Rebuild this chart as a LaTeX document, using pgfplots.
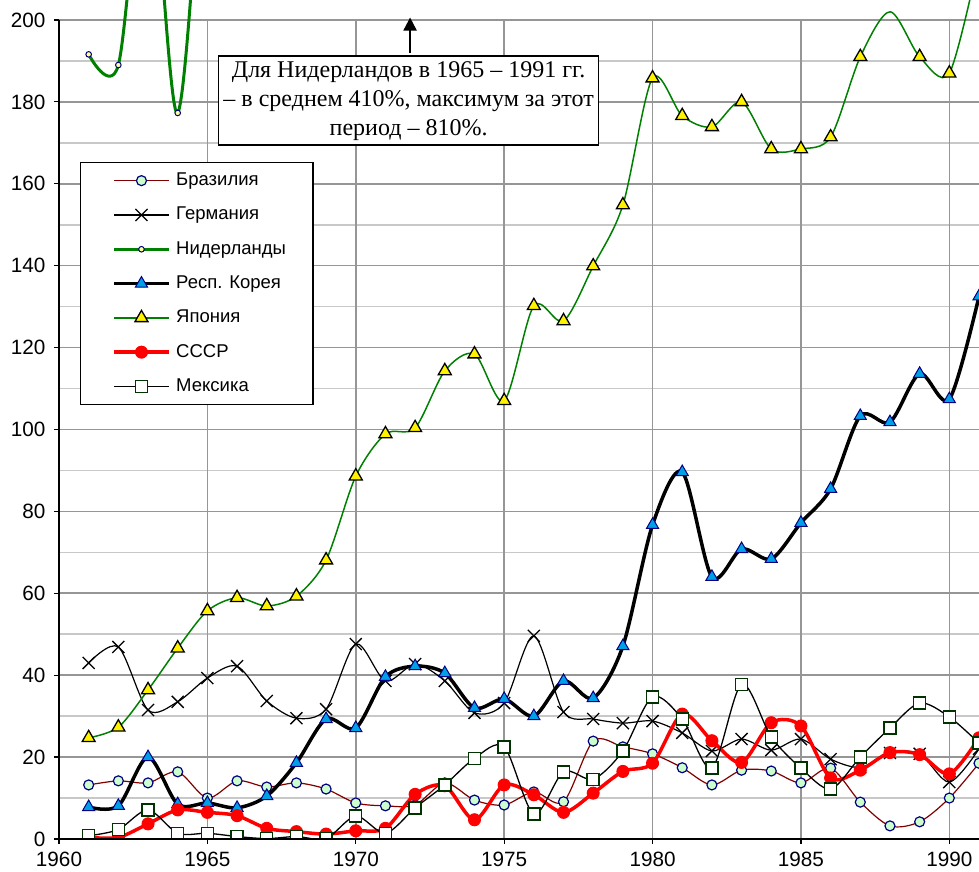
\documentclass[border=0pt]{standalone}
\usepackage{fontspec}
\setmainfont{Liberation Sans}
\newfontfamily\timesfont{Liberation Serif}
\usepackage{pgfplots}
\pgfplotsset{compat=1.18}
\usepackage{pgfplotstable}
\usetikzlibrary{arrows.meta}

\definecolor{gridmaj}{RGB}{150,150,150}
\definecolor{gridmin}{RGB}{200,200,200}
\definecolor{bradark}{RGB}{128,0,0}
\definecolor{bralight}{RGB}{204,255,204}
\definecolor{navy}{RGB}{0,0,128}
\definecolor{nedgreen}{RGB}{0,128,0}
\definecolor{lightyel}{RGB}{255,255,153}
\definecolor{korblue}{RGB}{0,160,230}
\definecolor{mexgreen}{RGB}{0,51,0}

\pgfplotstableread{
year bra ger kor jap ussr mex
1961 13.2 43.0 7.8 24.7 0.4 0.8
1962 14.2 46.9 8.1 27.3 0.4 2.3
1963 13.7 31.5 20.0 36.4 3.7 7.1
1964 16.4 33.5 8.5 46.6 7.1 1.4
1965 10.0 39.3 8.8 55.7 6.5 1.4
1966 14.2 42.2 7.6 58.9 5.7 0.6
1967 12.7 33.7 10.5 56.9 2.6 0.1
1968 13.7 29.5 18.6 59.3 1.8 0.6
1969 12.2 31.7 29.3 68.1 1.2 0.1
1970 8.8 47.6 27.1 88.6 2.0 5.6
1971 8.1 38.6 39.6 98.9 2.6 1.4
1972 8.3 42.7 42.2 100.4 10.9 7.6
1973 13.7 38.6 40.5 114.3 13.0 13.2
1974 9.5 30.8 32.0 118.4 4.7 19.7
1975 8.3 33.2 34.2 107.0 13.2 22.5
1976 11.5 49.6 30.0 130.2 10.8 6.1
1977 9.1 31.0 38.6 126.5 6.5 16.4
1978 23.9 29.3 34.4 139.9 11.2 14.6
1979 22.5 28.3 47.1 154.8 16.5 21.5
1980 20.8 28.8 76.7 185.8 18.5 34.7
1981 17.4 25.9 89.6 176.6 30.5 29.3
1982 13.2 21.5 64.0 173.9 24.0 17.3
1983 16.8 24.4 70.8 180.0 18.7 37.8
1984 16.6 21.7 68.4 168.5 28.4 24.9
1985 13.7 24.4 77.2 168.5 27.6 17.3
1986 17.3 19.5 85.5 171.4 14.9 12.2
1987 9.0 17.5 103.3 191.0 16.8 20.0
1988 3.2 21.0 101.8 202.0 21.1 27.1
1989 4.2 20.8 113.6 191.0 20.6 33.2
1990 10.0 13.9 107.4 187.0 15.9 29.8
1991 18.5 22.0 132.5 215.0 24.7 23.4
}\datatable

\begin{document}
\begin{tikzpicture}
\begin{axis}[
  at={(0pt,0pt)}, anchor=south west,
  scale only axis, width=920pt, height=839pt,
  xmin=1960, xmax=1991, ymin=0, ymax=204.88,
  axis line style={draw=none},
  xtick={1960,1965,1970,1975,1980,1985,1990},
  ytick={0,20,...,200},
  minor ytick={10,30,...,190},
  ymajorgrids, yminorgrids,
  major grid style={draw=gridmaj, line width=1.6pt},
  minor grid style={draw=gridmin, line width=1.6pt},
  tick align=outside, major tick length=5pt, minor tick length=0pt,
  xtick pos=left, ytick pos=left,
  tick style={black, line width=1.2pt},
  tick label style={font=\fontsize{20.7}{24}\selectfont},
  yticklabel style={xshift=-5pt},
  xticklabel style={yshift=-5pt},
  /pgf/number format/assume math mode=true,
  /pgf/number format/1000 sep={},
  clip marker paths=true,
  legend cell align=left,
  legend style={at={(0.0228,0.807)}, anchor=north west, draw=black, line width=1.5pt,
    fill=white, font=\fontsize{18.5}{22}\selectfont,
    inner xsep=27pt, inner ysep=9pt, row sep=16.3pt,
    nodes={inner sep=0pt, text height=14pt, text depth=4pt}},
  legend image code/.code={\path (-5pt,0pt);
    \draw[#1, mark indices={2}] plot coordinates {(0pt,0pt) (27pt,0pt) (54pt,0pt)};
    \path (60pt,0pt);},
]
\pgfplotsinvokeforeach{1965,1970,1975,1980,1985,1990}{
  \draw[gridmaj, line width=1.6pt] (axis cs:#1,0) -- (axis cs:#1,200);
}
\coordinate (YT) at (axis cs:1960,200);
\coordinate (O) at (axis cs:1960,0);
\coordinate (XR) at (axis cs:1991,0);

\addplot[color=bradark, line width=1.2pt, smooth, mark=*, mark size=5pt,
  mark options={fill=bralight, draw=navy, line width=1.2pt}]
  table[x=year, y=bra] {\datatable};
\addlegendentry{Бразилия}

\addplot[color=black, line width=1.2pt, smooth, mark=x, mark size=8.5pt,
  mark options={black, line width=1.3pt}]
  table[x=year, y=ger] {\datatable};
\addlegendentry{Германия}

\addplot[color=nedgreen, line width=3pt, smooth, mark=*, mark size=2.8pt,
  mark options={fill=lightyel, draw=navy, line width=1pt}]
  coordinates {(1961,191.6) (1962,189.0) (1963,245) (1964,177.3) (1965,265) (1966,380)};
\addlegendentry{Нидерланды}

\addplot[color=black, line width=3.5pt, smooth, mark=triangle*, mark size=7pt,
  mark options={fill=korblue, draw=navy, line width=1pt}]
  table[x=year, y=kor] {\datatable};
\addlegendentry{Респ. Корея}

\addplot[color=nedgreen, line width=1.5pt, smooth, mark=triangle*, mark size=7.5pt,
  mark indices={1,...,27,29,30,31},
  mark options={fill=yellow, draw=black, line width=1.3pt}]
  table[x=year, y=jap] {\datatable};
\addlegendentry{Япония}

\addplot[color=red, line width=3.5pt, smooth, mark=*, mark size=6pt,
  mark options={fill=red, draw=red, line width=1pt}]
  table[x=year, y=ussr] {\datatable};
\addlegendentry{СССР}

\addplot[color=black, line width=1.3pt, smooth, mark=square*, mark size=6pt,
  mark options={fill=white, draw=mexgreen, line width=1.4pt}]
  table[x=year, y=mex] {\datatable};
\addlegendentry{Мексика}

\draw[black, line width=2pt, -{Triangle[length=13pt, width=13pt]}]
  (axis cs:1971.83,191.9) -- (axis cs:1971.83,200.6);
\node[draw=black, line width=1.5pt, fill=white, align=center,
  font=\timesfont\fontsize{24}{29}\selectfont, inner xsep=5pt, inner ysep=5pt]
  at (axis cs:1971.78,180.3)
  {Для Нидерландов в 1965 – 1991 гг.\\– в среднем 410\%, максимум за этот\\период – 810\%.};
\end{axis}
\draw[black, line width=2pt] (YT) -- (O) -- (XR);
\pgfresetboundingbox
\path (-59pt,-33pt) rectangle (920pt,839pt);
\end{tikzpicture}
\end{document}
